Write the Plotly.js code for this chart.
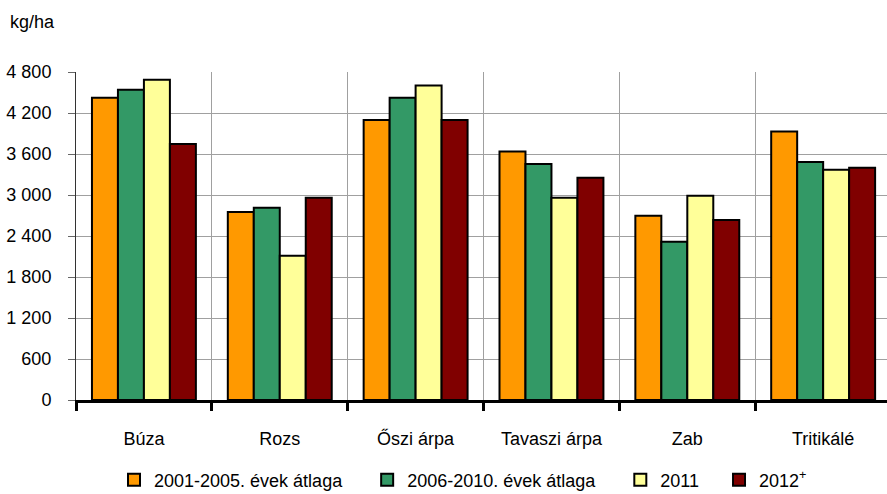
<!DOCTYPE html>
<html>
<head>
<meta charset="utf-8">
<script src="https://cdn.plot.ly/plotly-3.0.1.min.js"></script>
<style>html,body{margin:0;padding:0;background:#fff;}#chart{width:887px;height:494px;}</style>
</head>
<body>
<div id="chart"></div>
<script>
const categories = ["Búza", "Rozs", "Őszi árpa", "Tavaszi árpa", "Zab", "Tritikálé"];
const seriesNames = ["2001-2005. évek átlaga", "2006-2010. évek átlaga", "2011", "2012<sup>+</sup>"];
const avg2001_2005 = [4422, 2751, 4099, 3635, 2697, 3928];
const avg2006_2010 = [4539, 2814, 4422, 3454, 2316, 3484];
const y2011 = [4686, 2110, 4602, 2960, 2990, 3371];
const y2012 = [3747, 2960, 4099, 3254, 2634, 3400];
const yTickVals = [0, 600, 1200, 1800, 2400, 3000, 3600, 4200, 4800];
const yTickText = ["0", "600", "1 200", "1 800", "2 400", "3 000", "3 600", "4 200", "4 800"];
const colors = ["#FF9900", "#339966", "#FFFF99", "#800000"];

const FONT = "Liberation Sans, Arial, sans-serif";
const PAD = ["\u00a0\u00a0\u00a0\u00a0", "\u00a0\u00a0\u00a0\u00a0", "\u00a0\u00a0\u00a0", ""];
const allSeries = [avg2001_2005, avg2006_2010, y2011, y2012];
const traces = allSeries.map((vals, i) => ({
  type: "bar",
  x: categories,
  y: vals,
  name: seriesNames[i] + PAD[i],
  marker: {color: colors[i], line: {color: "#000", width: 2}},
  hoverinfo: "x+y+name"
}));

const layout = {
  width: 887, height: 494,
  margin: {l: 76, r: 0, t: 72, b: 94},
  paper_bgcolor: "#fff", plot_bgcolor: "#fff",
  font: {family: FONT, size: 18, color: "#000"},
  barmode: "group",
  bargap: 0.235,
  bargroupgap: 0,
  title: {text: "kg/ha", x: 10/887, xanchor: "left", xref: "container", yref: "container", y: 1 - 22/494, yanchor: "middle", font: {family: FONT, size: 18, color: "#000"}},
  xaxis: {
    type: "category",
    range: [-0.5, 5.47],
    tickson: "boundaries",
    showgrid: true, gridcolor: "#A0A0A0", gridwidth: 1,
    showline: true, linecolor: "#000", linewidth: 3,
    ticks: "outside", ticklen: 8, tickwidth: 3, tickcolor: "#000",
    ticklabelstandoff: 20,
    zeroline: false, fixedrange: true
  },
  yaxis: {
    range: [0, 4800],
    tickmode: "array", tickvals: yTickVals, ticktext: yTickText,
    showgrid: true, gridcolor: "#A0A0A0", gridwidth: 1,
    showline: true, linecolor: "#333", linewidth: 1,
    ticks: "outside", ticklen: 7, tickwidth: 1, tickcolor: "#666",
    ticklabelstandoff: 13,
    zeroline: false, fixedrange: true
  },
  showlegend: true,
  legend: {orientation: "h", x: 463/887, xref: "container", xanchor: "center", y: 1 - 480/494, yref: "container", yanchor: "middle", font: {family: FONT, size: 18}, traceorder: "normal"}
};

Plotly.newPlot("chart", traces, layout, {displayModeBar: false, staticPlot: true});
</script>
</body>
</html>
